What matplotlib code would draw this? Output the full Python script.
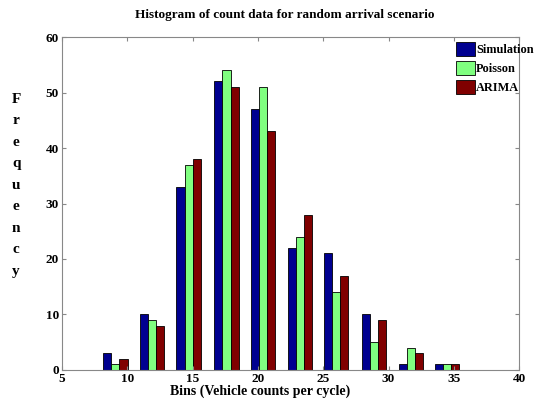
import numpy as np
import matplotlib.pyplot as plt

bin_centers = [9.1, 11.9, 14.7, 17.6, 20.4, 23.2, 26.0, 28.9, 31.7, 34.5]
simulation = [3, 10, 33, 52, 47, 22, 21, 10, 1, 1]
poisson = [1, 9, 37, 54, 51, 24, 14, 5, 4, 1]
arima = [2, 8, 38, 51, 43, 28, 17, 9, 3, 1]
series_names = ["Simulation", "Poisson", "ARIMA"]

plt.rcParams["font.family"] = ["Liberation Serif", "DejaVu Serif"]
plt.rcParams["font.weight"] = "bold"

fig = plt.figure(figsize=(5.38, 4.03), dpi=100)
ax = fig.add_axes([0.115, 0.082, 0.85, 0.826])

x = np.array(bin_centers)
w = 0.62
colors = ["#000090", "#80ff80", "#800000"]
for i, (vals, name) in enumerate(zip([simulation, poisson, arima], series_names)):
    ax.bar(x + (i - 1) * w, vals, width=w, color=colors[i], edgecolor="black",
           linewidth=0.6, label=name)

ax.set_xlim(5, 40)
ax.set_ylim(0, 60)
ax.set_xticks(range(5, 41, 5))
ax.set_yticks(range(0, 61, 10))
ax.tick_params(direction="in", top=True, right=True, labelsize=9.5, length=3,
               color="#888888", pad=2)
for lab in ax.get_xticklabels() + ax.get_yticklabels():
    lab.set_fontweight("bold")
for s in ax.spines.values():
    s.set_color("#888888")

fig.text(0.53, 0.962, "Histogram of count data for random arrival scenario",
         ha="center", va="center", fontsize=9.5, fontweight="bold")
fig.text(0.483, 0.028, "Bins (Vehicle counts per cycle)", ha="center", va="center",
         fontsize=10, fontweight="bold")
fig.text(0.03, 0.54, "\n".join("Frequency"), ha="center", va="center",
         fontsize=11, fontweight="bold", linespacing=1.85)

ax.legend(loc="upper left", bbox_to_anchor=(0.845, 0.9),
          bbox_transform=fig.transFigure, frameon=False, fontsize=8.8,
          handlelength=1.6, handleheight=1.4, handletextpad=0.05,
          labelspacing=0.4, borderpad=0.1, borderaxespad=0)

fig.savefig("out.png", dpi=100)
